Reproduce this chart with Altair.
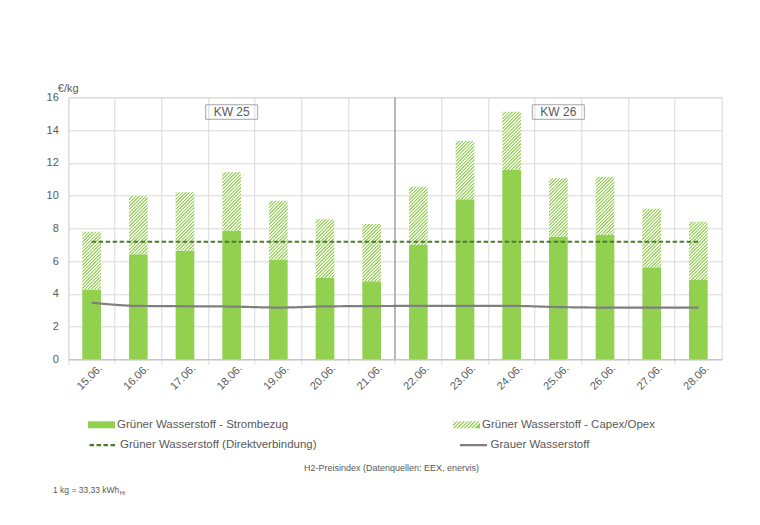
import altair as alt
import pandas as pd

# ---- data ----
dates = ["15.06.", "16.06.", "17.06.", "18.06.", "19.06.", "20.06.", "21.06.",
         "22.06.", "23.06.", "24.06.", "25.06.", "26.06.", "27.06.", "28.06."]
strombezug = [4.27, 6.41, 6.63, 7.85, 6.10, 4.96, 4.76, 6.98, 9.77, 11.56, 7.49, 7.59, 5.62, 4.84]
capex_opex = [3.52, 3.56, 3.57, 3.57, 3.59, 3.59, 3.50, 3.56, 3.56, 3.56, 3.56, 3.56, 3.58, 3.56]
direkt = [7.18, 7.18, 7.18, 7.18, 7.18, 7.18, 7.18, 7.18, 7.18, 7.18, 7.18, 7.18, 7.18, 7.18]
grau = [3.46, 3.26, 3.24, 3.22, 3.16, 3.23, 3.25, 3.26, 3.26, 3.26, 3.19, 3.16, 3.16, 3.16]
y_ticks = [0, 2, 4, 6, 8, 10, 12, 14, 16]
week_labels = ["KW 25", "KW 26"]
week_label_dates = ["18.06.", "25.06."]
week_label_y = [15.1, 15.1]
week_break = ["22.06."]

S_STROM = "Grüner Wasserstoff - Strombezug"
S_CAPEX = "Grüner Wasserstoff - Capex/Opex"
S_DIREKT = "Grüner Wasserstoff (Direktverbindung)"
S_GRAU = "Grauer Wasserstoff"

bars = pd.DataFrame(
    [{"Datum": d, "Reihe": S_STROM, "Wert": s, "ord": 0} for d, s in zip(dates, strombezug)]
    + [{"Datum": d, "Reihe": S_CAPEX, "Wert": c, "ord": 1} for d, c in zip(dates, capex_opex)]
)
lines = pd.DataFrame(
    [{"Datum": d, "Reihe": S_DIREKT, "Wert": v} for d, v in zip(dates, direkt)]
    + [{"Datum": d, "Reihe": S_GRAU, "Wert": v} for d, v in zip(dates, grau)]
)
weeks = pd.DataFrame({"label": week_labels, "Datum": week_label_dates, "y": week_label_y})
brk = pd.DataFrame({"Datum": week_break})
legend_items = pd.DataFrame({"Reihe": [S_STROM, S_CAPEX]})

# ---- styles ----
FONT = "Liberation Sans"
TXT = "#595959"
GREEN = "#92D050"
WHITE = "#FFFFFF"
GRID = "#D9D9D9"


def hatch_stops(n, g=0.22):
    st = []
    for i in range(n):
        st += [(i / n, GREEN), ((i + g) / n, GREEN),
               ((i + 0.5) / n, WHITE), ((i + 1 - g) / n, WHITE)]
    st.append((1.0, GREEN))
    return st


# bar hatch (bbox units, tuned to the bar aspect so stripes run at 45 degrees)
bar_hatch = {"gradient": "linear", "x1": 0, "y1": 0, "x2": 1, "y2": 3.12,
             "stops": [{"offset": round(o, 5), "color": c} for o, c in hatch_stops(60)]}
# legend swatch hatch
leg_stops = ",".join("{offset:%.5f,color:'%s'}" % (o, c) for o, c in hatch_stops(8))
leg_hatch_expr = "{gradient:'linear',x1:0,y1:0,x2:1,y2:0.26,stops:[" + leg_stops + "]}"

x_axis = alt.Axis(title=None, bandPosition=0, labelOffset=9, labelAngle=-45,
                  labelAlign="right", labelBaseline="middle", labelPadding=2,
                  labelFont=FONT, labelFontSize=11, labelColor=TXT,
                  grid=True, gridColor=GRID, tickColor=GRID, tickSize=5,
                  domainColor="#BFBFBF", labelOverlap=False)
x_scale = alt.Scale(domain=dates, paddingInner=0, paddingOuter=0)
x_enc = alt.X("Datum:N", sort=dates, axis=x_axis, scale=x_scale)
y_axis = alt.Axis(title="€/kg", titleAngle=0, titleAlign="left", titleBaseline="bottom",
                  titleX=-11, titleY=-4, titleFont=FONT, titleFontSize=11,
                  titleFontWeight="normal", titleColor=TXT,
                  values=y_ticks, labelFont=FONT, labelFontSize=11, labelColor=TXT,
                  labelPadding=10, ticks=False, domain=False, gridColor=GRID)
y_scale = alt.Scale(domain=[0, 16], nice=False)

bar_layer = alt.Chart(bars).mark_bar(width=alt.RelativeBandSize(0.4)).encode(
    x=x_enc,
    y=alt.Y("Wert:Q", stack="zero", scale=y_scale, axis=y_axis),
    fill=alt.condition("datum.ord == 1", alt.value(bar_hatch), alt.value(GREEN)),
    order=alt.Order("ord:Q"),
)

bar_legend_layer = alt.Chart(legend_items).transform_filter("false").mark_bar().encode(
    fill=alt.Fill("Reihe:N",
                  scale=alt.Scale(domain=[S_STROM, S_CAPEX],
                                  range=[GREEN, {"expr": leg_hatch_expr}]),
                  legend=alt.Legend(title=None, orient="none", legendX=19.7, legendY=314,
                                    direction="horizontal", columns=2, columnPadding=164,
                                    symbolType="M-1,-0.26H1V0.26H-1Z", symbolSize=729,
                                    symbolStrokeWidth=0, labelFont=FONT, labelFontSize=11.5,
                                    labelColor=TXT, labelOffset=2, labelLimit=400, padding=0)),
)

line_legend = alt.Legend(title=None, orient="none", legendX=19.7, legendY=332.5,
                         direction="horizontal", columns=2, columnPadding=138.5,
                         symbolType="stroke", symbolSize=729, symbolStrokeWidth=2.2,
                         labelFont=FONT, labelFontSize=11.5, labelColor=TXT,
                         labelOffset=2, labelLimit=400, padding=0)
line_layer = alt.Chart(lines).mark_line(interpolate="monotone", strokeWidth=2.2).encode(
    x=x_enc,
    y=alt.Y("Wert:Q", scale=y_scale, axis=y_axis),
    stroke=alt.Stroke("Reihe:N", scale=alt.Scale(domain=[S_DIREKT, S_GRAU],
                                                 range=["#4E7A2C", "#7F7F7F"]),
                      legend=line_legend),
    strokeDash=alt.StrokeDash("Reihe:N", scale=alt.Scale(domain=[S_DIREKT, S_GRAU],
                                                         range=[[4.5, 2.5], [1, 0]]),
                              legend=line_legend),
)

rule_layer = alt.Chart(brk).mark_rule(color="#A6A6A6", strokeWidth=1.5).encode(
    x=alt.X("Datum:N", sort=dates, axis=x_axis, bandPosition=0, scale=x_scale),
)

box_layer = alt.Chart(weeks).mark_point(
    shape="M-1,-0.28H1V0.28H-1Z", size=2704, filled=False,
    stroke="#A6A6A6", strokeWidth=1, opacity=1).encode(
    x=x_enc, y=alt.Y("y:Q", scale=y_scale, axis=y_axis))
kw_text = alt.Chart(weeks).mark_text(font=FONT, fontSize=12, color=TXT, baseline="middle").encode(
    x=x_enc, y=alt.Y("y:Q", scale=y_scale, axis=y_axis), text="label:N")

caption = alt.Chart(pd.DataFrame({"t": ["H2-Preisindex (Datenquellen: EEX, enervis)"]})).mark_text(
    font=FONT, fontSize=9, color=TXT, align="center", baseline="middle").encode(
    x=alt.value(323.2), y=alt.value(370.7), text="t:N")
note = alt.Chart(pd.DataFrame({"t": ["1 kg = 33,33 kWh"]})).mark_text(
    font=FONT, fontSize=8.5, color=TXT, align="left", baseline="middle").encode(
    x=alt.value(-15.3), y=alt.value(392.7), text="t:N")
note_sub = alt.Chart(pd.DataFrame({"t": ["Hi"]})).mark_text(
    font=FONT, fontSize=6, color=TXT, align="left", baseline="middle").encode(
    x=alt.value(51.4), y=alt.value(395.6), text="t:N")

chart = alt.layer(rule_layer, bar_layer, bar_legend_layer, line_layer, box_layer, kw_text,
                  caption, note, note_sub).properties(
    width=653.4, height=262,
    autosize=alt.AutoSizeParams(type="none"),
    padding={"left": 60.3, "top": 89.3, "right": 20, "bottom": 150},
    background="white",
).configure_view(stroke=GRID)

chart.save("out.html", embed_options={"renderer": "svg", "actions": False})
